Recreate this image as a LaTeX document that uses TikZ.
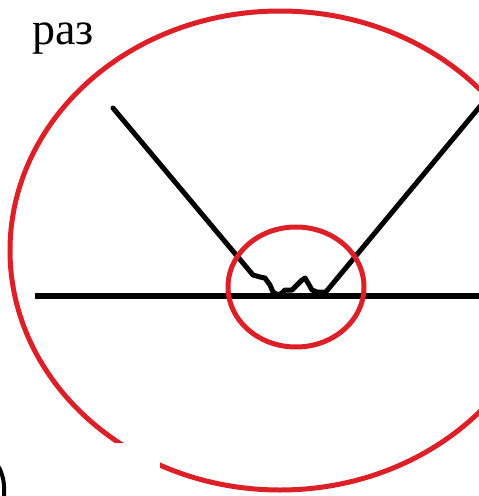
\documentclass[tikz,border=0pt]{standalone}
\usepackage{fontspec}
\setmainfont{Liberation Serif}
\definecolor{penred}{RGB}{221,32,40}
\begin{document}
\begin{tikzpicture}[x=1pt,y=-1pt,
  redpen/.style={draw=penred,line width=5pt},
  blackpen/.style={draw=black,line width=5.5pt,line join=round,line cap=round},
  label/.style={inner sep=0pt,font=\fontsize{46}{46}\selectfont}]
\useasboundingbox[fill=white] (0,0) rectangle (479,496);
% big ellipse
\draw[redpen] (280,250.5) ellipse [x radius=270, y radius=239.5];
% ground line
\coordinate (gL) at (35,296);
\coordinate (gR) at (485,296);
\draw[blackpen,line cap=butt] (gL) -- (gR);
% V with rough contact
\coordinate (vL) at (113,108);
\coordinate (vR) at (482,104);
\draw[blackpen,line width=5pt] (vL) -- (253,275) -- (260,277) -- (265,278) -- (270,285) -- (273,292) -- (278,295) -- (282,293) -- (285,290) -- (292,290) -- (295,287) -- (302,280) -- (305,278) -- (308,283) -- (312,290) -- (317,292) -- (322,292) -- (325,293) -- (vR);
% small ellipse
\draw[redpen] (296,287) ellipse [x radius=68, y radius=60];
% white patch at bottom left
\fill[white] (0,443) rectangle (160,496);
% fragment at bottom-left edge
\draw[black,line width=4pt] (-2,466) .. controls (3,474) and (5,484) .. (4,498);
\node[label,anchor=base west] (title) at (32,44) {раз};
\end{tikzpicture}
\end{document}
